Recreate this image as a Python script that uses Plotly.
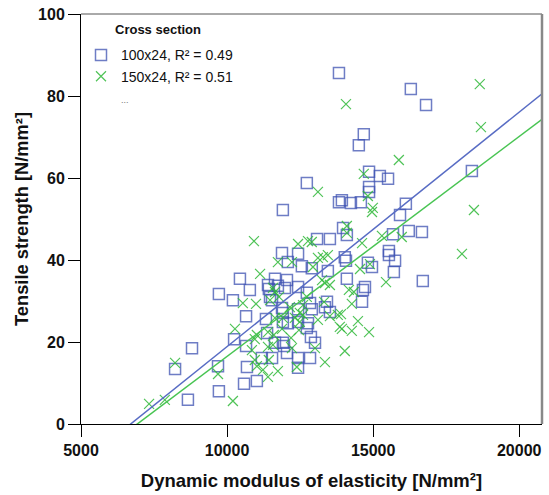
import plotly.graph_objects as go

# Dynamic modulus of elasticity [N/mm²] and tensile strength [N/mm²] per cross section
e_100x24 = [13830, 16290, 16810, 14680, 14510, 12730, 14860, 15230, 15510, 14860,
            14860, 13830, 13930, 14240, 14580, 16120, 18380, 15920, 16220, 16670,
            15680, 15540, 15540, 15750, 14820, 14960, 15710, 16700, 14720, 14650,
            14620, 14030, 14070, 14100, 11910, 13080, 13520, 13970, 14100, 11880,
            12430, 12080, 12560, 12900, 13450, 10440, 10780, 11640, 12050, 11740,
            11430, 11980, 11470, 10200, 12730, 12840, 11880, 12430, 12900, 13350,
            13520, 10650, 11330, 11910, 12080, 12430, 12770, 12730, 10240, 10650,
            11370, 11640, 11910, 11950, 12870, 13010, 12050, 11190, 11540, 12430,
            12840, 12430, 10680, 11020, 10580, 11400, 12430, 13420, 11540, 11910,
            9720, 8800, 8220, 9690, 9720, 8660]
t_100x24 = [85.6, 81.7, 77.8, 70.7, 68.0, 58.8, 61.5, 60.5, 59.8, 57.8,
            56.6, 54.1, 54.6, 53.9, 54.1, 53.7, 61.7, 51.0, 47.1, 46.8,
            46.3, 42.2, 41.2, 39.8, 39.3, 38.3, 37.1, 34.9, 33.4, 32.7,
            29.8, 40.7, 39.8, 35.4, 52.2, 45.1, 45.1, 47.8, 46.1, 41.7,
            41.5, 39.5, 38.5, 38.0, 37.3, 35.4, 32.7, 35.4, 35.1, 33.7,
            32.9, 33.2, 31.0, 30.2, 32.0, 29.5, 28.3, 28.0, 28.0, 28.5,
            27.3, 26.3, 25.6, 24.9, 24.6, 24.9, 24.6, 23.4, 20.7, 19.0,
            22.2, 19.8, 19.8, 19.0, 21.2, 19.8, 17.3, 16.1, 16.1, 16.1,
            16.1, 13.7, 13.9, 10.5, 9.8, 33.9, 33.4, 29.8, 30.2, 27.1,
            31.7, 18.5, 13.4, 14.1, 8.0, 5.9]

e_150x24 = [14070, 18650, 18690, 15880, 14680, 13110, 14820, 14990, 14960, 18450,
            15300, 15980, 14620, 18040, 14890, 14550, 15440, 14170, 14340, 14270,
            13900, 14480, 13930, 14270, 14860, 14030, 10920, 12430, 12770, 12900,
            14100, 14100, 11740, 12220, 13110, 13280, 13450, 11130, 12940, 13250,
            13350, 13520, 11570, 11640, 10540, 10990, 11780, 12600, 12490, 12730,
            13320, 13790, 13860, 10270, 11020, 10950, 11400, 11600, 11880, 12190,
            12460, 13110, 11910, 12600, 12150, 11400, 11570, 10850, 13010, 13350,
            10950, 11430, 11230, 11020, 11740, 12390, 11400, 10200, 8220, 9690,
            7330, 7870, 12220, 11470, 12320, 12490, 11640, 13520]
t_150x24 = [78.0, 82.9, 72.4, 64.4, 61.0, 56.6, 55.6, 52.7, 51.7, 52.2,
            45.9, 45.6, 44.1, 41.5, 39.0, 37.8, 34.6, 32.7, 32.2, 29.3,
            26.8, 25.1, 23.2, 22.7, 22.4, 17.8, 44.6, 43.9, 44.6, 44.4,
            48.3, 46.6, 39.5, 39.5, 40.5, 40.7, 41.2, 36.6, 38.3, 35.1,
            34.4, 33.9, 33.2, 32.2, 29.5, 29.3, 31.0, 29.0, 27.1, 31.0,
            29.8, 26.6, 23.7, 23.2, 21.7, 20.7, 22.4, 21.7, 23.2, 21.0,
            22.9, 25.4, 25.9, 26.6, 28.5, 18.8, 19.3, 18.0, 18.5, 15.1,
            15.6, 15.6, 13.2, 14.1, 12.9, 13.9, 11.5, 5.6, 14.9, 12.2,
            4.9, 5.9, 18.5, 30.2, 25.9, 24.9, 25.9, 26.3]

# Linear fit coefficients (slope, intercept)
fit_100x24 = (0.005719, -38.32)
fit_150x24 = (0.005365, -37.16)

x_range = [5000, 20780]
x_ticks = [5000, 10000, 15000, 20000]
y_ticks = [0, 20, 40, 60, 80, 100]

BLUE = "rgba(62, 82, 178, 0.75)"
GREEN = "rgba(48, 185, 58, 0.85)"
BLUE_LINE = "rgb(88, 108, 196)"
GREEN_LINE = "rgb(72, 196, 82)"
FONT = "Liberation Sans, Arial, sans-serif"

fig = go.Figure()

fig.add_trace(go.Scatter(
    x=e_100x24, y=t_100x24, mode="markers", name="100x24, R² = 0.49",
    marker=dict(symbol="square-open", size=11, color=BLUE, line=dict(width=1.5, color=BLUE)),
))
fig.add_trace(go.Scatter(
    x=e_150x24, y=t_150x24, mode="markers", name="150x24, R² = 0.51",
    marker=dict(symbol="x-thin-open", size=10, color=GREEN, line=dict(width=1.2, color=GREEN)),
))
fig.add_trace(go.Scatter(
    x=[None], y=[None], mode="markers", name='<span style="font-size:9px;color:#777">...</span>',
    marker=dict(size=1, color="rgba(0,0,0,0)"),
))

for (slope, intercept), color in [(fit_100x24, BLUE_LINE), (fit_150x24, GREEN_LINE)]:
    fig.add_trace(go.Scatter(
        x=x_range, y=[slope * x + intercept for x in x_range], mode="lines",
        line=dict(color=color, width=1.5), showlegend=False, hoverinfo="skip",
    ))

axis_common = dict(
    showgrid=False, zeroline=False, showline=True, linecolor="black", linewidth=1,
    ticks="outside", ticklen=12, tickcolor="black", tickwidth=1,
    tickfont=dict(family=FONT, size=16, color="#111", weight="bold"),
)

fig.update_layout(
    width=549, height=495,
    margin=dict(l=81, r=7, t=14, b=71),
    paper_bgcolor="white", plot_bgcolor="white",
    font=dict(family=FONT, color="#111"),
    xaxis=dict(
        range=x_range, tickvals=x_ticks, tickformat="d", **axis_common,
        title=dict(text="Dynamic modulus of elasticity [N/mm²]", standoff=15,
                   font=dict(family=FONT, size=18.5, color="#111", weight="bold")),
    ),
    yaxis=dict(
        range=[0, 100], tickvals=y_ticks, **axis_common,
        title=dict(text="Tensile strength [N/mm²]", standoff=4,
                   font=dict(family=FONT, size=18.3, color="#111", weight="bold")),
    ),
    legend=dict(
        x=0.0, y=0.938, xanchor="left", yanchor="top",
        bgcolor="rgba(0,0,0,0)", borderwidth=0,
        font=dict(family=FONT, size=14, color="#111"),
        tracegroupgap=0, itemwidth=30,
    ),
    annotations=[
        dict(text="<b>Cross section</b>", xref="paper", yref="paper",
             x=0.0694, y=0.963, xanchor="left", yanchor="middle", showarrow=False,
             font=dict(family=FONT, size=13, color="#111")),
    ],
    shapes=[
        dict(type="line", xref="paper", yref="paper", x0=0, x1=1, y0=1, y1=1,
             line=dict(color="#555", width=1)),
        dict(type="line", xref="paper", yref="paper", x0=1, x1=1, y0=0, y1=1,
             line=dict(color="#888", width=2.5)),
    ],
)

fig.write_html("out.html")
